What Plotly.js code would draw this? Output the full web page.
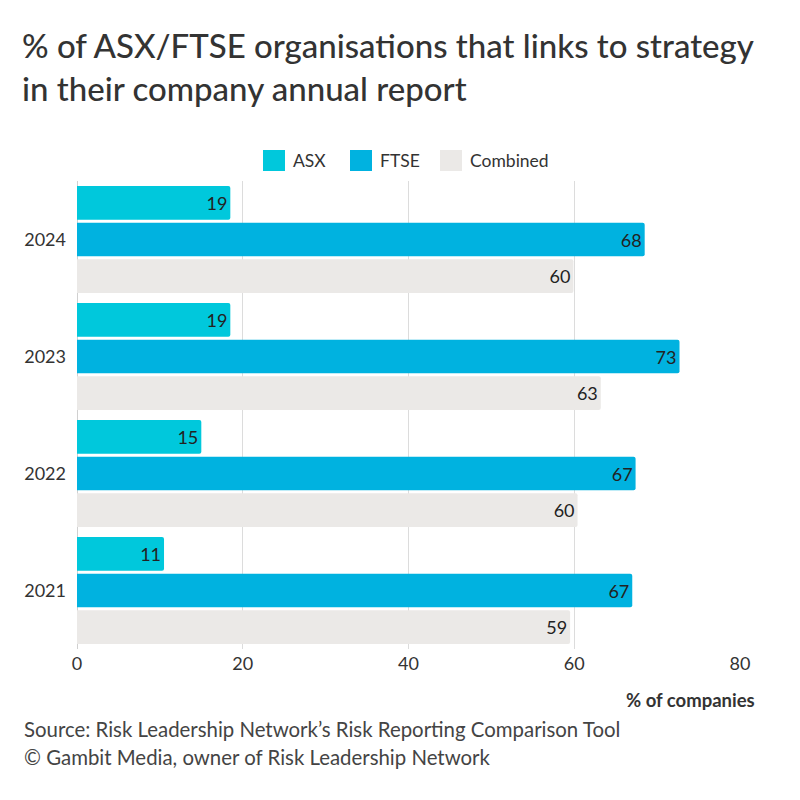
<!DOCTYPE html>
<html>
<head>
<meta charset="utf-8">
<script src="https://cdn.plot.ly/plotly-3.0.1.min.js"></script>
<style>html,body{margin:0;padding:0;background:#fff;}#chart{width:800px;height:800px;}</style>
</head>
<body>
<div id="chart"></div>
<script>
const years = ['2024', '2023', '2022', '2021'];
const seriesNames = ['ASX', 'FTSE', 'Combined'];
const asxValues = [18.5, 18.5, 15.0, 10.5];
const ftseValues = [68.5, 72.7, 67.4, 67.0];
const combinedValues = [59.9, 63.2, 60.4, 59.5];
const asxLabels = ['19', '19', '15', '11'];
const ftseLabels = ['68', '73', '67', '67'];
const combinedLabels = ['60', '63', '60', '59'];
const xTicks = [0, 20, 40, 60, 80];

const colors = ['#00c8dc', '#00b2e0', '#ebe9e7'];
const FONT = 'Lato, "Open Sans", sans-serif';
const values = [asxValues, ftseValues, combinedValues];
const labels = [asxLabels, ftseLabels, combinedLabels];

const traces = seriesNames.map((name, i) => ({
  type: 'bar',
  orientation: 'h',
  name: name,
  y: years,
  x: values[i],
  text: labels[i],
  textposition: 'inside',
  insidetextanchor: 'end',
  textfont: {family: FONT, size: 18, color: '#222'},
  marker: {color: colors[i], line: {width: 0}},
  showlegend: false,
  hoverinfo: 'x+y+name'
}));

// custom legend (larger squares)
const M = {l: 77, r: 60, t: 181, b: 151};
const plotW = 800 - M.l - M.r;
const plotH = 800 - M.t - M.b;
const legendX = [263, 350, 440];
const shapes = [];
const annotations = [];
const px = (x) => (x - M.l) / plotW;
const py = (y) => (800 - M.b - y) / plotH;
seriesNames.forEach((name, i) => {
  shapes.push({type: 'rect', xref: 'paper', yref: 'paper',
    x0: px(legendX[i]), x1: px(legendX[i] + 22),
    y0: py(171), y1: py(150),
    fillcolor: colors[i], line: {width: 0}});
  annotations.push({xref: 'paper', yref: 'paper', x: px(legendX[i] + 28),
    y: py(160.5), xanchor: 'left', yanchor: 'middle', showarrow: false,
    text: name, font: {family: FONT, size: 17.5, color: '#333'}});
});
annotations.push({xref: 'paper', yref: 'paper', x: px(757), y: py(700),
  xanchor: 'right', yanchor: 'middle', showarrow: false,
  text: '<b>% of companies</b>', font: {family: FONT, size: 18.5, color: '#333'}});
annotations.push({xref: 'paper', yref: 'paper', x: px(22), y: py(729),
  xanchor: 'left', yanchor: 'middle', showarrow: false,
  text: 'Source: Risk Leadership Network’s Risk Reporting Comparison Tool',
  font: {family: FONT, size: 20.4, color: '#444'}});
annotations.push({xref: 'paper', yref: 'paper', x: px(22), y: py(757),
  xanchor: 'left', yanchor: 'middle', showarrow: false,
  text: '© Gambit Media, owner of Risk Leadership Network',
  font: {family: FONT, size: 20.4, color: '#444'}});

const layout = {
  width: 800, height: 800,
  paper_bgcolor: '#fff', plot_bgcolor: '#fff',
  margin: {l: M.l, r: M.r, t: M.t, b: M.b, pad: 0},
  title: {text: '% of ASX/FTSE organisations that links to strategy<br>in their company annual report',
    x: 22 / 800, xanchor: 'left', xref: 'container', y: 1 - 58 / 800, yanchor: 'middle', yref: 'container',
    font: {family: FONT, size: 33, color: '#333', weight: 500}},
  barmode: 'group',
  bargap: 0.06,
  bargroupgap: 0.08,
  barcornerradius: 2,
  xaxis: {range: [0, 80], tickvals: xTicks, showgrid: true, gridcolor: '#dcdcdc', gridwidth: 1,
    zeroline: true, zerolinecolor: '#d0d0d0', zerolinewidth: 1, showline: false, ticks: '',
    tickfont: {family: FONT, size: 18, color: '#333'}, ticklabelstandoff: 2, fixedrange: true},
  yaxis: {type: 'category', autorange: 'reversed', showgrid: false, zeroline: false, ticks: '',
    tickfont: {family: FONT, size: 18, color: '#333'}, ticklabelstandoff: 10, fixedrange: true},
  shapes: shapes,
  annotations: annotations,
  showlegend: false
};

Plotly.newPlot('chart', traces, layout, {displayModeBar: false, staticPlot: true});
</script>
</body>
</html>
